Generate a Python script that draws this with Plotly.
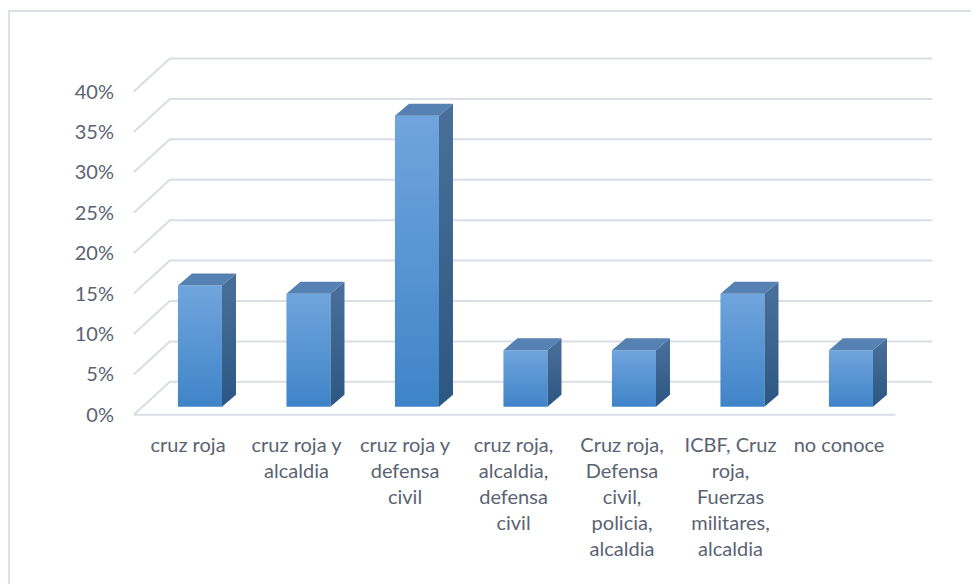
import plotly.graph_objects as go

categories = [
    "cruz roja",
    "cruz roja y<br>alcaldia",
    "cruz roja y<br>defensa<br>civil",
    "cruz roja,<br>alcaldia,<br>defensa<br>civil",
    "Cruz roja,<br>Defensa<br>civil,<br>policia,<br>alcaldia",
    "ICBF, Cruz<br>roja,<br>Fuerzas<br>militares,<br>alcaldia",
    "no conoce",
]
porcentajes = [15, 14, 36, 7, 7, 14, 7]
y_ticks = [0, 5, 10, 15, 20, 25, 30, 35, 40]

# 3D look (oblique projection in data units)
BACK_DX, BACK_DY = 0.332, 4.08
FLOOR_X0, FLOOR_X1 = -0.61, 6.41
BACK_X1 = 6.75
BAR_BASE = 0.99
BAR_HALF = 0.203
DEPTH_DX, DEPTH_DY = 0.129, 1.48
GRID = '#d9dde4'
TEXT = '#5a6372'

fig = go.Figure()

# walls / gridlines
gx, gy = [FLOOR_X0, FLOOR_X1, None], [0, 0, None]
for v in y_ticks:
    gx += [FLOOR_X0, FLOOR_X0 + BACK_DX, BACK_X1, None]
    gy += [v, v + BACK_DY, v + BACK_DY, None]
fig.add_trace(go.Scatter(x=gx, y=gy, mode='lines', line=dict(color=GRID, width=2),
                         hoverinfo='skip'))

for i, v in enumerate(porcentajes):
    l, r, b, t = i - BAR_HALF, i + BAR_HALF, BAR_BASE, BAR_BASE + v
    # front
    fig.add_trace(go.Scatter(
        x=[l, r, r, l, l], y=[b, b, t, t, b], mode='lines', fill='toself',
        line=dict(width=0),
        fillgradient=dict(type='vertical', colorscale=[[0, '#3f84c8'], [1, '#70a5dd']]),
        hoverinfo='skip'))
    # side
    fig.add_trace(go.Scatter(
        x=[r, r + DEPTH_DX, r + DEPTH_DX, r, r],
        y=[b, b + DEPTH_DY, t + DEPTH_DY, t, b], mode='lines', fill='toself',
        line=dict(width=0),
        fillgradient=dict(type='vertical', colorscale=[[0, '#2b5782'], [1, '#4a709a']]),
        hoverinfo='skip'))
    # top
    fig.add_trace(go.Scatter(
        x=[l, r, r + DEPTH_DX, l + DEPTH_DX, l],
        y=[t, t, t + DEPTH_DY, t + DEPTH_DY, t], mode='lines', fill='toself',
        line=dict(width=0), fillcolor='#5581b3', hoverinfo='skip'))

# page body has an 8px margin, so margins are shifted to compensate
fig.update_layout(
    width=979, height=584,
    margin=dict(l=112, r=27, t=35, b=161),
    plot_bgcolor='white', paper_bgcolor='white',
    showlegend=False,
    font=dict(family='Lato, Open Sans, sans-serif', size=20, color=TEXT),
    xaxis=dict(range=[-0.737, 7.005], showgrid=False, zeroline=False, showline=False,
               tickmode='array', tickvals=[i - 0.11 for i in range(len(categories))],
               ticktext=categories, ticks='', tickangle=0),
    yaxis=dict(range=[-2, 46], showgrid=False, zeroline=False, showline=False,
               tickmode='array', tickvals=y_ticks,
               ticktext=[f'{v}%' for v in y_ticks], ticks='', ticklabelstandoff=5),
    shapes=[dict(type='rect', xref='paper', yref='paper',
                 x0=-0.132, x1=1.06, y0=-0.46, y1=1.0825,
                 line=dict(color=GRID, width=2))],
)

fig.write_html("out.html")
